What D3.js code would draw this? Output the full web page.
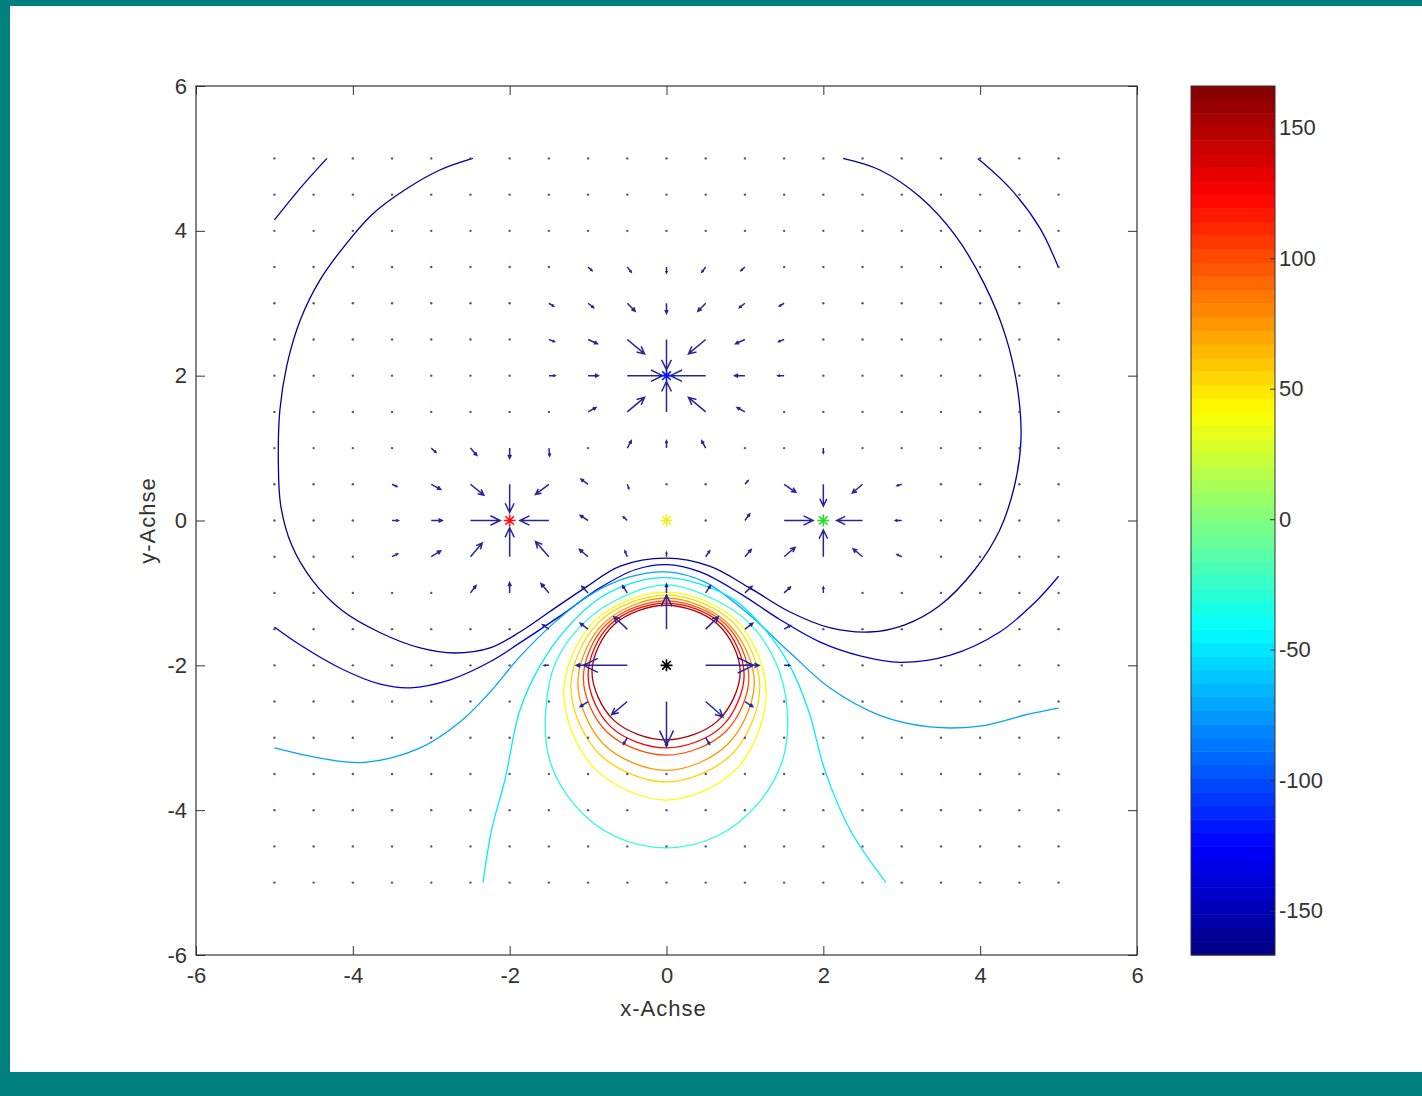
<!DOCTYPE html>
<html>
<head>
<meta charset="utf-8">
<script src="https://cdn.jsdelivr.net/npm/d3@7"></script>
<style>
    body { margin: 0; background: #fff; }
    svg { display: block; }
</style>
</head>
<body>
<svg id="chart" width="1422" height="1096"></svg>
<script>
// ---- data ----
const xTicks = [-6, -4, -2, 0, 2, 4, 6];
const yTicks = [-6, -4, -2, 0, 2, 4, 6];
const cbarTicks = [-150, -100, -50, 0, 50, 100, 150];
const cbarRange = [-167, 166];
const gridSteps = [-5, -4.5, -4, -3.5, -3, -2.5, -2, -1.5, -1, -0.5, 0, 0.5, 1, 1.5, 2, 2.5, 3, 3.5, 4, 4.5, 5];

// charges (star markers)
const markerX = [-2, 0, 2, 0, 0];
const markerY = [0, 2, 0, 0, -2];
const markerColor = ["#ff1010", "#1010ff", "#20e020", "#f0f020", "#000000"];

// contour lines, traced point by point (x, y)
const heartLine = [[-2.47,5],[-2.89,4.84],[-3.33,4.57],[-3.76,4.22],[-4.10,3.80],[-4.42,3.32],[-4.67,2.77],[-4.84,2.15],[-4.93,1.53],[-4.95,0.84],[-4.92,0.21],[-4.78,-0.34],[-4.52,-0.82],[-4.14,-1.24],[-3.65,-1.55],[-3.14,-1.76],[-2.70,-1.83],[-2.25,-1.76],[-1.87,-1.54],[-1.49,-1.26],[-1.04,-0.93],[-0.59,-0.63],[0,-0.52],[0.55,-0.63],[1.06,-0.93],[1.57,-1.26],[2.08,-1.48],[2.59,-1.54],[3.04,-1.44],[3.49,-1.17],[3.93,-0.68],[4.25,-0.13],[4.44,0.49],[4.52,1.11],[4.48,1.80],[4.32,2.56],[4.06,3.25],[3.68,3.94],[3.23,4.47],[2.72,4.84],[2.25,5]];
const arcTopLeft = [[-5,4.15],[-4.67,4.59],[-4.33,5]];
const arcTopRight = [[3.97,5],[4.38,4.59],[4.76,4.04],[5,3.49]];
const lowerBlue = [[-5,-1.47],[-4.67,-1.72],[-4.16,-2.04],[-3.65,-2.26],[-3.27,-2.31],[-2.76,-2.20],[-2.25,-1.95],[-1.87,-1.69],[-1.36,-1.32],[-0.85,-0.93],[-0.40,-0.68],[0,-0.61],[0.43,-0.71],[0.94,-1.01],[1.45,-1.37],[1.96,-1.68],[2.47,-1.87],[2.98,-1.96],[3.62,-1.86],[4.25,-1.54],[4.70,-1.13],[5,-0.77]];
const cyanWide = [[-5,-3.14],[-4.42,-3.28],[-3.85,-3.34],[-3.14,-3.14],[-2.63,-2.78],[-2.25,-2.37],[-1.87,-1.88],[-1.42,-1.40],[-0.98,-1.03],[-0.47,-0.78],[0,-0.71],[0.49,-0.85],[0.99,-1.24],[1.57,-1.82],[2.08,-2.31],[2.72,-2.69],[3.36,-2.85],[3.99,-2.84],[4.63,-2.67],[5,-2.59]];
const cyanOpen = [[-2.34,-5],[-2.23,-4.27],[-2.06,-3.58],[-1.87,-2.62],[-1.61,-2.0],[-1.29,-1.51],[-0.85,-1.07],[-0.40,-0.85],[0,-0.79],[0.43,-0.88],[0.87,-1.10],[1.26,-1.51],[1.57,-2.0],[1.81,-2.62],[2.02,-3.45],[2.34,-4.27],[2.80,-5]];
const cyanLoop = [[0,-0.89],[-0.57,-1.06],[-1.04,-1.40],[-1.41,-1.95],[-1.54,-2.62],[-1.49,-3.31],[-1.17,-3.93],[-0.66,-4.36],[0,-4.52],[0.64,-4.36],[1.15,-3.93],[1.48,-3.31],[1.54,-2.62],[1.39,-1.95],[1.04,-1.40],[0.55,-1.06]];
const yellowLoop = [[0,-0.99],[-0.92,-1.39],[-1.31,-2.37],[-0.92,-3.42],[0,-3.86],[0.90,-3.42],[1.27,-2.37],[0.90,-1.39]];
const yellowOrangeLoop = [[0,-1.03],[-0.86,-1.40],[-1.22,-2.29],[-0.86,-3.22],[0,-3.61],[0.84,-3.22],[1.19,-2.29],[0.84,-1.40]];
const orangeLoop = [[0,-1.07],[-0.80,-1.42],[-1.13,-2.23],[-0.80,-3.09],[0,-3.45],[0.78,-3.09],[1.12,-2.23],[0.78,-1.42]];
const orangeRedLoop = [[0,-1.11],[-0.76,-1.43],[-1.06,-2.17],[-0.76,-2.92],[0,-3.24],[0.75,-2.92],[1.05,-2.17],[0.75,-1.43]];
const redLoop = [[0,-1.14],[-0.71,-1.43],[-1.0,-2.13],[-0.71,-2.85],[0,-3.14],[0.70,-2.85],[0.99,-2.13],[0.70,-1.43]];
const darkRedLoop = [[0,-1.17],[-0.67,-1.44],[-0.95,-2.09],[-0.67,-2.76],[0,-3.03],[0.66,-2.76],[0.94,-2.09],[0.66,-1.44]];

const contourLines = [
    {level: -150, pts: arcTopLeft, closed: false},
    {level: -150, pts: arcTopRight, closed: false},
    {level: -158, pts: heartLine, closed: false},
    {level: -142, pts: lowerBlue, closed: false},
    {level: -72, pts: cyanWide, closed: false},
    {level: -48, pts: cyanOpen, closed: false},
    {level: -30, pts: cyanLoop, closed: true},
    {level: 40, pts: yellowLoop, closed: true},
    {level: 55, pts: yellowOrangeLoop, closed: true},
    {level: 75, pts: orangeLoop, closed: true},
    {level: 100, pts: orangeRedLoop, closed: true},
    {level: 125, pts: redLoop, closed: true},
    {level: 150, pts: darkRedLoop, closed: true}
];

// visible quiver arrows: [x, y, u, v]; all other grid points are specks
const arrows = [
    // around (0,2)
    [-0.5,2,0.45,0],[0.5,2,-0.45,0],[0,2.5,0,-0.42],[0,1.5,0,0.42],
    [-0.5,2.5,0.22,-0.2],[0.5,2.5,-0.22,-0.2],[-0.5,1.5,0.22,0.2],[0.5,1.5,-0.22,0.2],
    [0,3,0,-0.14],[0,1,0,0.1],[-1,2,0.13,0],[1,2,-0.13,0],
    [-0.5,3,0.1,-0.11],[0.5,3,-0.1,-0.11],[-1,2.5,0.12,-0.06],[1,2.5,-0.12,-0.06],
    [-1,1.5,0.1,0.06],[1,1.5,-0.1,0.06],[-0.5,1,0.05,0.1],[0.5,1,-0.05,0.1],
    [-1.5,2,0.08,0],[1.5,2,-0.08,0],[-1.5,2.5,0.07,-0.03],[1.5,2.5,-0.07,-0.03],
    [-1,3,0.07,-0.06],[1,3,-0.07,-0.06],[0,3.5,0,-0.08],[-0.5,3.5,0.05,-0.07],[0.5,3.5,-0.05,-0.07],
    [-1.5,3,0.06,-0.04],[1.5,3,-0.06,-0.04],[-1,3.5,0.05,-0.05],[1,3.5,-0.05,-0.05],
    // around (-2,0)
    [-2.5,0,0.38,0],[-1.5,0,-0.37,0],[-2,0.5,0,-0.39],[-2,-0.5,0,0.4],
    [-2.5,0.5,0.17,-0.15],[-1.5,0.5,-0.17,-0.14],[-2.5,-0.5,0.15,0.19],[-1.5,-0.5,-0.17,0.21],
    [-3,0,0.14,0],[-3,0.5,0.12,-0.07],[-3,-0.5,0.12,0.08],
    [-2,1,0,-0.14],[-2.5,1,0.08,-0.1],[-1.5,1,0.01,-0.11],[-3,1,0.06,-0.06],
    [-2,-1,0,0.14],[-2.5,-1,0.07,0.1],[-1.5,-1,-0.1,0.13],
    [-1,0,-0.1,0.07],[-1,0.5,-0.09,0.07],[-1,-0.5,-0.11,0.1],[-0.5,0,-0.05,0.05],[-0.5,0.5,0.02,-0.06],
    [-3.5,0,0.08,0],[-3.5,0.5,0.06,-0.03],[-3.5,-0.5,0.07,0.04],
    // around (2,0)
    [1.5,0,0.37,0],[2.5,0,-0.33,0],[2,0.5,0,-0.3],[2,-0.5,0,0.37],
    [1.5,0.5,0.15,-0.11],[2.5,0.5,-0.13,-0.12],[1.5,-0.5,0.14,0.13],[2.5,-0.5,-0.12,0.11],
    [3,0,-0.08,0],[2,1,0,-0.07],[2,-1,0,0.08],[1,0,0.06,0.09],[1,0.5,0.04,0.05],[1,-0.5,0.08,0.1],
    [3,0.5,-0.06,-0.02],[3,-0.5,-0.06,0.03],
    // around (0,-2)
    [-0.5,-2,-0.56,0],[0.5,-2,0.61,0],[0,-1.5,0,0.47],[0,-2.5,0,-0.6],
    [-0.5,-2.5,-0.2,-0.18],[0.5,-2.5,0.22,-0.21],[-0.5,-1.5,-0.17,0.17],[0.5,-1.5,0.16,0.17],
    [-1,-2,-0.15,0],[1,-2,0.18,0],[0,-3,0,-0.12],[0,-1,0,0.12],
    [-1,-1.5,-0.1,0.08],[1,-1.5,0.1,0.08],[-1,-2.5,-0.1,-0.07],[1,-2.5,0.1,-0.07],
    [-0.5,-3,-0.05,-0.09],[0.5,-3,0.05,-0.09],[-0.5,-1,-0.06,0.1],[0.5,-1,0.06,0.1],
    [-1,-1,-0.08,0.09],[1,-1,0.09,0.09],[-0.5,-0.5,-0.03,0.08],[0,-0.5,0,0.06],[0.5,-0.5,0.05,0.08],
    [1.5,-1,0.08,0.08],[-1.5,-1.5,-0.08,0.06],[1.5,-1.5,0.08,0.05],[-1.5,-2,-0.06,0],[1.5,-2,0.07,0]
];

// ---- drawing ----
let svg = d3.select("#chart");
const font = "'Liberation Sans', Arial, sans-serif";

// teal frame
svg.append("rect").attr("width", 1422).attr("height", 1096).attr("fill", "#007f7f");
svg.append("rect").attr("x", 10).attr("y", 6).attr("width", 1412).attr("height", 1066).attr("fill", "#ffffff");

let x = d3.scaleLinear().domain([-6, 6]).range([196, 1137]);
let y = d3.scaleLinear().domain([-6, 6]).range([955, 86]);

// jet colormap
let jet = d3.scaleLinear()
    .domain([0, 0.125, 0.375, 0.625, 0.875, 1])
    .range(["#000080", "#0000ff", "#00ffff", "#ffff00", "#ff0000", "#800000"])
    .clamp(true);
let levelColor = v => jet((v - cbarRange[0]) / (cbarRange[1] - cbarRange[0]));

// contours
let openLine = d3.line().x(d => x(d[0])).y(d => y(d[1])).curve(d3.curveCatmullRom);
let closedLine = d3.line().x(d => x(d[0])).y(d => y(d[1])).curve(d3.curveCatmullRomClosed);

svg.append("g").selectAll("path").data(contourLines).enter().append("path")
    .attr("d", d => d.closed ? closedLine(d.pts) : openLine(d.pts))
    .attr("fill", "none")
    .attr("stroke", d => levelColor(d.level))
    .attr("stroke-width", 1.3);

// quiver
let arrowKeys = new Set(arrows.map(a => a[0] + "," + a[1]));
let markerKeys = new Set(markerX.map((mx, i) => mx + "," + markerY[i]));
let specks = [];
gridSteps.forEach(gx => gridSteps.forEach(gy => {
    let k = gx + "," + gy;
    if (!arrowKeys.has(k) && !markerKeys.has(k)) specks.push([gx, gy]);
}));

let quiver = svg.append("g");
quiver.selectAll("circle").data(specks).enter().append("circle")
    .attr("cx", d => x(d[0]))
    .attr("cy", d => y(d[1]))
    .attr("r", 1.2)
    .attr("fill", "#55557f");

function arrowPath(a) {
    let x0 = x(a[0]), y0 = y(a[1]);
    let x1 = x(a[0] + a[2]), y1 = y(a[1] + a[3]);
    let dx = x1 - x0, dy = y1 - y0;
    // matlab style head, a third of the length back
    let hx = x1 - 0.33 * dx, hy = y1 - 0.33 * dy;
    let px = -dy * 0.16, py = dx * 0.16;
    return `M${x0},${y0}L${x1},${y1}M${hx + px},${hy + py}L${x1},${y1}L${hx - px},${hy - py}`;
}

quiver.selectAll("path").data(arrows).enter().append("path")
    .attr("d", arrowPath)
    .attr("fill", "none")
    .attr("stroke", "#26269a")
    .attr("stroke-width", 1.5);

// charge markers (matlab '*')
let marks = markerX.map((mx, i) => ({x: mx, y: markerY[i], c: markerColor[i]}));
let s = 6, t = 4.3;
svg.append("g").selectAll("path").data(marks).enter().append("path")
    .attr("transform", d => `translate(${x(d.x)},${y(d.y)})`)
    .attr("d", `M${-s},0L${s},0M0,${-s}L0,${s}M${-t},${-t}L${t},${t}M${-t},${t}L${t},${-t}`)
    .attr("fill", "none")
    .attr("stroke", d => d.c)
    .attr("stroke-width", 1.6);

// axes with inward ticks
function styleAxis(g) {
    g.select(".domain").remove();
    g.attr("font-family", font).attr("font-size", 22).attr("color", "#333");
}
let fmt = d => String(d);

svg.append("g").attr("transform", "translate(0,955)")
    .call(d3.axisBottom(x).tickValues(xTicks).tickSizeInner(-9).tickSizeOuter(0).tickPadding(12).tickFormat(fmt))
    .call(styleAxis);
svg.append("g").attr("transform", "translate(0,86)")
    .call(d3.axisTop(x).tickValues(xTicks).tickSizeInner(-9).tickSizeOuter(0).tickFormat(""))
    .call(styleAxis);
svg.append("g").attr("transform", "translate(196,0)")
    .call(d3.axisLeft(y).tickValues(yTicks).tickSizeInner(-9).tickSizeOuter(0).tickPadding(9).tickFormat(fmt))
    .call(styleAxis);
svg.append("g").attr("transform", "translate(1137,0)")
    .call(d3.axisRight(y).tickValues(yTicks).tickSizeInner(-9).tickSizeOuter(0).tickFormat(""))
    .call(styleAxis);

svg.append("rect")
    .attr("x", x(-6)).attr("y", y(6))
    .attr("width", x(6) - x(-6)).attr("height", y(-6) - y(6))
    .attr("fill", "none").attr("stroke", "#333").attr("stroke-width", 1.2);

// axis titles
svg.append("text")
    .attr("x", x(0) - 3).attr("y", 1008)
    .attr("text-anchor", "middle").attr("dominant-baseline", "central")
    .attr("font-family", font).attr("font-size", 22).attr("letter-spacing", 1)
    .attr("fill", "#333").text("x-Achse");
svg.append("text")
    .attr("transform", `translate(147,${y(0)}) rotate(-90)`)
    .attr("text-anchor", "middle").attr("dominant-baseline", "central")
    .attr("font-family", font).attr("font-size", 22).attr("letter-spacing", 1)
    .attr("fill", "#333").text("y-Achse");

// colorbar
let c = d3.scaleLinear().domain(cbarRange).range([955, 86]);
let nBands = 64;
let span = cbarRange[1] - cbarRange[0];
let bands = d3.range(nBands);
let cbar = svg.append("g");
cbar.selectAll("rect").data(bands).enter().append("rect")
    .attr("x", 1191)
    .attr("width", 84)
    .attr("y", i => c(cbarRange[0] + (i + 1) * span / nBands))
    .attr("height", i => c(cbarRange[0] + i * span / nBands) - c(cbarRange[0] + (i + 1) * span / nBands) + 0.5)
    .attr("fill", i => jet((i + 0.5) / nBands));
cbar.append("rect")
    .attr("x", 1191).attr("y", 86).attr("width", 84).attr("height", 869)
    .attr("fill", "none").attr("stroke", "#333").attr("stroke-width", 1);
svg.append("g").attr("transform", "translate(1275,0)")
    .call(d3.axisRight(c).tickValues(cbarTicks).tickSizeInner(-5).tickSizeOuter(0).tickPadding(4).tickFormat(fmt))
    .call(styleAxis);
</script>
</body>
</html>
